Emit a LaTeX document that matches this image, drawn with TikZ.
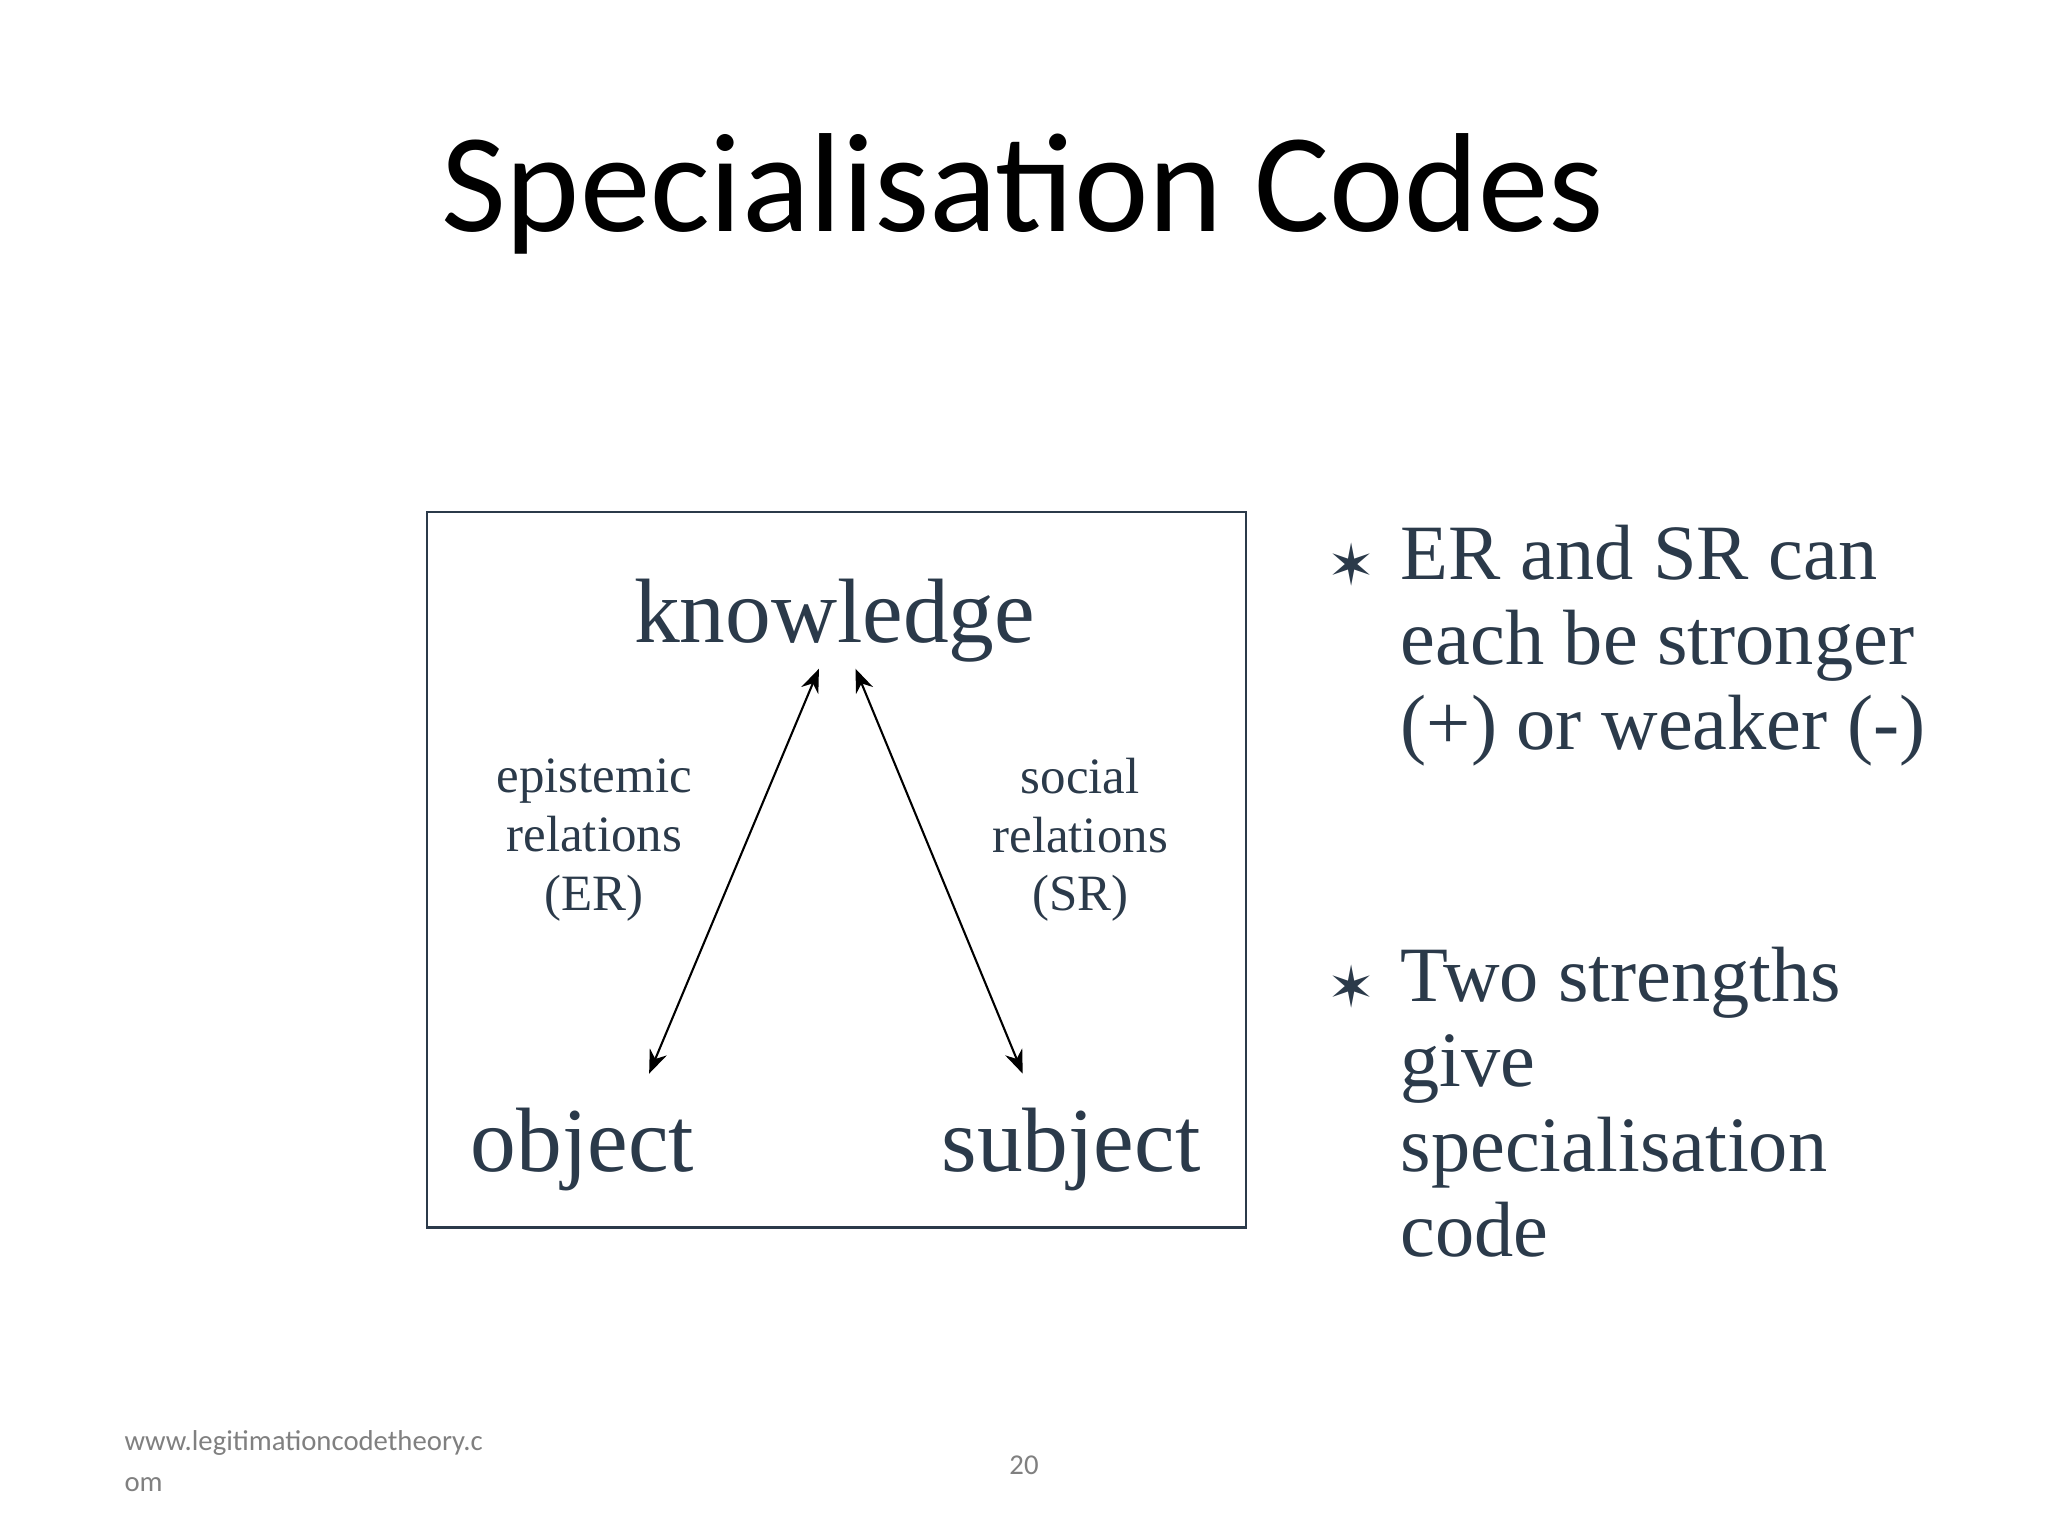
\documentclass[tikz,border=0pt]{standalone}
\usepackage{fontspec}
\setmainfont{Liberation Serif}
\newfontfamily\calfont{Carlito}
\newfontfamily\djfont{DejaVu Sans}
\usetikzlibrary{arrows.meta}
\definecolor{ink}{HTML}{2B3A4A}
\begin{document}
\begin{tikzpicture}[x=0.5pt,y=-0.5pt,
  big/.style={font=\fontsize{35}{40}\selectfont,text=ink,anchor=base,inner sep=0},
  lab/.style={font=\fontsize{19.5}{22.5}\selectfont,text=ink,align=center,inner sep=0},
  bul/.style={font=\fontsize{30}{32.5}\selectfont,text=ink,align=left,anchor=north west,inner sep=0},
  arr/.style={{Stealth[length=9pt,width=7pt]}-{Stealth[length=9pt,width=7pt]},line width=0.8pt}]
\useasboundingbox[fill=white] (0,0) rectangle (1568,1176);
\node[font=\calfont\fontsize{54}{60}\selectfont,anchor=base,inner sep=0] (title) at (783,177) {Specialisation Codes};
\draw[ink,line width=1pt] (327,392) rectangle (954,940);
\node[big] (k) at (639,492) {knowledge};
\node[big] (o) at (446,897) {object};
\node[big] (s) at (820,897) {subject};
\coordinate (k1) at (627,512); \coordinate (o1) at (497,822);
\coordinate (k2) at (655,512); \coordinate (s1) at (783,822);
\draw[arr] (k1) -- (o1);
\draw[arr] (k2) -- (s1);
\node[lab] (er) at (455,643) {epistemic\\relations\\(ER)};
\node[lab] (sr) at (827,643) {social\\relations\\(SR)};
\node[font=\djfont\fontsize{22}{24}\selectfont,text=ink] (st1) at (1035,432) {✶};
\node[bul] (b1) at (1072,402) {ER and SR can\\each be stronger\\(+) or weaker (-)};
\node[font=\djfont\fontsize{22}{24}\selectfont,text=ink] (st2) at (1035,755) {✶};
\node[bul] (b2) at (1072,725) {Two strengths\\give\\specialisation\\code};
\node[font=\calfont\fontsize{11}{15.5}\selectfont,text=gray,align=left,anchor=north west,inner sep=0] (url) at (95,1095) {www.legitimationcodetheory.c\\om};
\node[font=\calfont\fontsize{11}{14}\selectfont,text=gray,inner sep=0] (pg) at (784,1122) {20};
\end{tikzpicture}
\end{document}
